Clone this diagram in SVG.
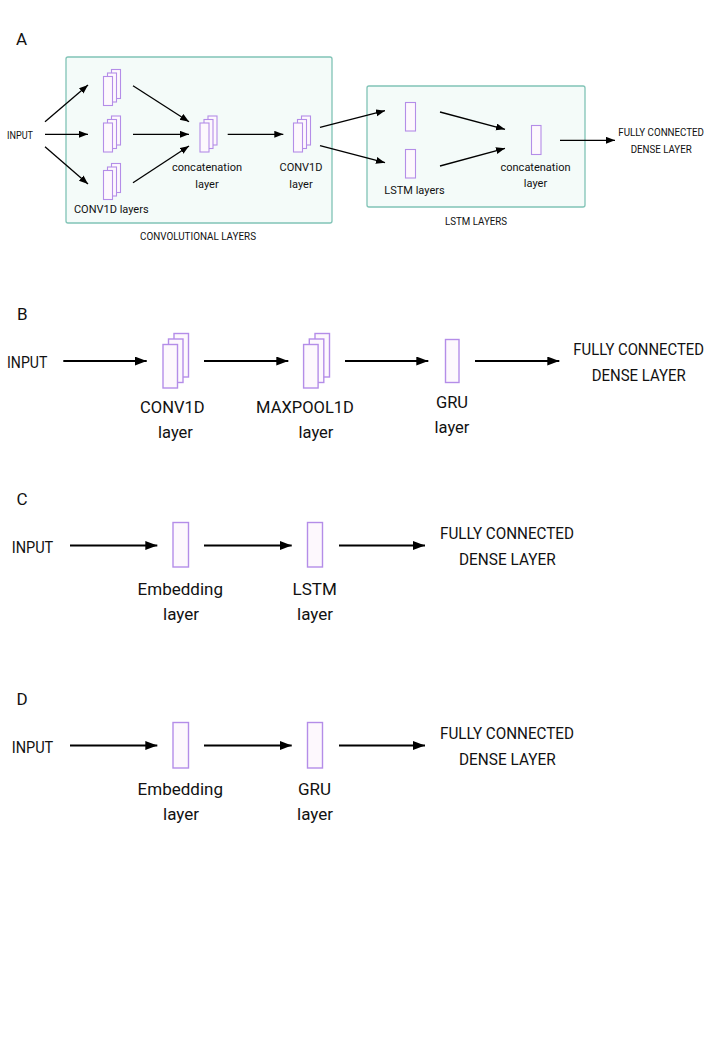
<svg xmlns="http://www.w3.org/2000/svg" width="720" height="1040" viewBox="0 0 720 1040">
<style>
.bg{fill:#ffffff}
.box{fill:#f4fbf9;stroke:#80c3b6;stroke-width:1.3}
.lay{fill:#fdf8fd;stroke:#b48de8;stroke-width:1.1}
.layB{fill:#fdf8fd;stroke:#b48de8;stroke-width:1.4}
.t{font-family:Roboto,"Liberation Sans",sans-serif;fill:#111}
.s{font-size:11px}
.m{font-size:16.5px}
.mc{font-size:17px}
.cap{font-size:10.5px}
.capB{font-size:16px}
.capC{font-size:16.5px}
.lt{font-size:17px}
.mid{text-anchor:middle}
.a1{stroke:#000;stroke-width:1.3;fill:none;marker-end:url(#hs)}
.a2{stroke:#000;stroke-width:2;fill:none;marker-end:url(#hl)}
</style>
<defs>
<marker id="hs" markerUnits="userSpaceOnUse" markerWidth="10" markerHeight="8" refX="9" refY="3.5" orient="auto"><path d="M0,0 L9,3.5 L0,7 z" fill="#000"/></marker>
<marker id="hl" markerUnits="userSpaceOnUse" markerWidth="13" markerHeight="10" refX="12" refY="4.5" orient="auto"><path d="M0,0 L12,4.5 L0,9 z" fill="#000"/></marker>
</defs>
<rect class="bg" x="0" y="0" width="720" height="1040"/>

<!-- Panel A -->
<text class="t lt" x="16" y="45">A</text>
<g id="convBox"><rect class="box" x="66" y="57" width="266" height="166" rx="2"/>
<text class="t cap" x="140" y="240" textLength="116" lengthAdjust="spacingAndGlyphs">CONVOLUTIONAL LAYERS</text></g>
<g id="lstmBox"><rect class="box" x="367" y="86" width="218" height="121" rx="2"/>
<text class="t cap" x="445" y="225" textLength="62" lengthAdjust="spacingAndGlyphs">LSTM LAYERS</text></g>
<g id="inputA"><text class="t cap" x="7" y="139" textLength="26" lengthAdjust="spacingAndGlyphs">INPUT</text></g>
<g id="convA1"><rect class="lay" x="111.5" y="69.5" width="9" height="29"/><rect class="lay" x="107.5" y="73" width="9" height="29"/><rect class="lay" x="103.5" y="76.5" width="9" height="29"/></g>
<g id="convA2"><rect class="lay" x="111.5" y="116" width="9" height="29"/><rect class="lay" x="107.5" y="119.5" width="9" height="29"/><rect class="lay" x="103.5" y="123" width="9" height="29"/></g>
<g id="convA3"><rect class="lay" x="111.5" y="163.5" width="9" height="29"/><rect class="lay" x="107.5" y="167" width="9" height="29"/><rect class="lay" x="103.5" y="170.5" width="9" height="29"/>
<text class="t s mid" x="111.3" y="213.3">CONV1D layers</text></g>
<g id="concatA"><rect class="lay" x="208" y="116" width="9" height="29"/><rect class="lay" x="204" y="119.5" width="9" height="29"/><rect class="lay" x="200" y="123" width="9" height="29"/>
<text class="t s mid" x="207" y="171">concatenation</text><text class="t s mid" x="207" y="188">layer</text></g>
<g id="conv1dA"><rect class="lay" x="301.5" y="116" width="9" height="29"/><rect class="lay" x="297.5" y="119.5" width="9" height="29"/><rect class="lay" x="293.5" y="123" width="9" height="29"/>
<text class="t s mid" x="301" y="171">CONV1D</text><text class="t s mid" x="301" y="188">layer</text></g>
<g id="lstmA1"><rect class="lay" x="405.5" y="102.5" width="10" height="28.5"/></g>
<g id="lstmA2"><rect class="lay" x="405.5" y="149.5" width="10" height="28.5"/>
<text class="t s mid" x="414.5" y="194">LSTM layers</text></g>
<g id="concatA2"><rect class="lay" x="531.5" y="125.5" width="9.5" height="29"/>
<text class="t s mid" x="535.5" y="170.7">concatenation</text><text class="t s mid" x="535.5" y="187.3">layer</text></g>
<g id="denseA"><text class="t cap" x="618.3" y="135.7" textLength="85.7" lengthAdjust="spacingAndGlyphs">FULLY CONNECTED</text>
<text class="t cap" x="630.7" y="152.7" textLength="61" lengthAdjust="spacingAndGlyphs">DENSE LAYER</text></g>

<!-- Panel B -->
<text class="t lt" x="17" y="320">B</text>
<g id="inputB"><text class="t capB" x="7" y="367.7" textLength="40.3" lengthAdjust="spacingAndGlyphs">INPUT</text></g>
<g id="convB"><rect class="layB" x="174" y="333.5" width="14.5" height="43.5"/><rect class="layB" x="168.5" y="339" width="14.5" height="43.5"/><rect class="layB" x="163" y="344.5" width="14.5" height="43.5"/>
<text class="t m mid" x="172.3" y="413">CONV1D</text><text class="t m mid" x="175.5" y="437.7">layer</text></g>
<g id="maxpoolB"><rect class="layB" x="315" y="333.5" width="14.5" height="43.5"/><rect class="layB" x="309.3" y="339" width="14.5" height="43.5"/><rect class="layB" x="303.6" y="344.5" width="14.5" height="43.5"/>
<text class="t m mid" x="305" y="413">MAXPOOL1D</text><text class="t m mid" x="316" y="437.7">layer</text></g>
<g id="gruB"><rect class="layB" x="445.5" y="339.5" width="13.5" height="43"/>
<text class="t m mid" x="452" y="407.7">GRU</text><text class="t m mid" x="452" y="432.5">layer</text></g>
<g id="denseB"><text class="t capB" x="573.3" y="355" textLength="130.7" lengthAdjust="spacingAndGlyphs">FULLY CONNECTED</text>
<text class="t capB" x="591.7" y="380.7" textLength="94" lengthAdjust="spacingAndGlyphs">DENSE LAYER</text></g>

<!-- Panel C -->
<text class="t lt" x="16.5" y="505">C</text>
<g id="inputC"><text class="t capC" x="11.7" y="552.7" textLength="41.6" lengthAdjust="spacingAndGlyphs">INPUT</text></g>
<g id="embC"><rect class="layB" x="173" y="522.5" width="15.5" height="44.5"/>
<text class="t mc mid" x="180.3" y="595.3">Embedding</text><text class="t mc mid" x="181" y="620">layer</text></g>
<g id="lstmC"><rect class="layB" x="307.5" y="522.5" width="15" height="44.5"/>
<text class="t mc mid" x="314.7" y="595.3">LSTM</text><text class="t mc mid" x="315" y="620">layer</text></g>
<g id="denseC"><text class="t capC" x="440" y="539" textLength="134" lengthAdjust="spacingAndGlyphs">FULLY CONNECTED</text>
<text class="t capC" x="459" y="565" textLength="96.7" lengthAdjust="spacingAndGlyphs">DENSE LAYER</text></g>

<!-- Panel D -->
<text class="t lt" x="16.5" y="705">D</text>
<g id="inputD"><text class="t capC" x="11.7" y="752.7" textLength="41.6" lengthAdjust="spacingAndGlyphs">INPUT</text></g>
<g id="embD"><rect class="layB" x="173" y="722.5" width="15.5" height="45.5"/>
<text class="t mc mid" x="180.3" y="795.3">Embedding</text><text class="t mc mid" x="181" y="820">layer</text></g>
<g id="gruD"><rect class="layB" x="307.5" y="722.5" width="15" height="45.5"/>
<text class="t mc mid" x="314.5" y="795.3">GRU</text><text class="t mc mid" x="315" y="820">layer</text></g>
<g id="denseD"><text class="t capC" x="440" y="739" textLength="134" lengthAdjust="spacingAndGlyphs">FULLY CONNECTED</text>
<text class="t capC" x="459" y="765" textLength="96.7" lengthAdjust="spacingAndGlyphs">DENSE LAYER</text></g>

<g id="connectors">
<line class="a1" x1="45" y1="121.7" x2="88" y2="85"/>
<line class="a1" x1="45" y1="134.3" x2="88" y2="134.3"/>
<line class="a1" x1="45" y1="146.7" x2="88" y2="184"/>
<line class="a1" x1="133" y1="85.7" x2="189" y2="121.7"/>
<line class="a1" x1="133" y1="134.3" x2="189" y2="134.3"/>
<line class="a1" x1="133" y1="182.7" x2="189" y2="146"/>
<line class="a1" x1="227.7" y1="134.3" x2="283.3" y2="134.3"/>
<line class="a1" x1="320" y1="127.3" x2="385" y2="110.7"/>
<line class="a1" x1="320" y1="145.7" x2="385" y2="162.7"/>
<line class="a1" x1="440" y1="112" x2="505" y2="129.3"/>
<line class="a1" x1="440" y1="166" x2="505" y2="148.3"/>
<line class="a1" x1="560" y1="140.3" x2="615" y2="140.3"/>
<line class="a2" x1="63.3" y1="361" x2="146.7" y2="361"/>
<line class="a2" x1="204" y1="361" x2="288.3" y2="361"/>
<line class="a2" x1="345" y1="361" x2="428.3" y2="361"/>
<line class="a2" x1="475" y1="361" x2="559.3" y2="361"/>
<line class="a2" x1="70" y1="545.5" x2="157.3" y2="545.5"/>
<line class="a2" x1="204" y1="545.5" x2="291.7" y2="545.5"/>
<line class="a2" x1="339" y1="545.5" x2="425" y2="545.5"/>
<line class="a2" x1="70" y1="745.5" x2="157.3" y2="745.5"/>
<line class="a2" x1="204" y1="745.5" x2="291.7" y2="745.5"/>
<line class="a2" x1="339" y1="745.5" x2="425" y2="745.5"/>
</g>
</svg>
